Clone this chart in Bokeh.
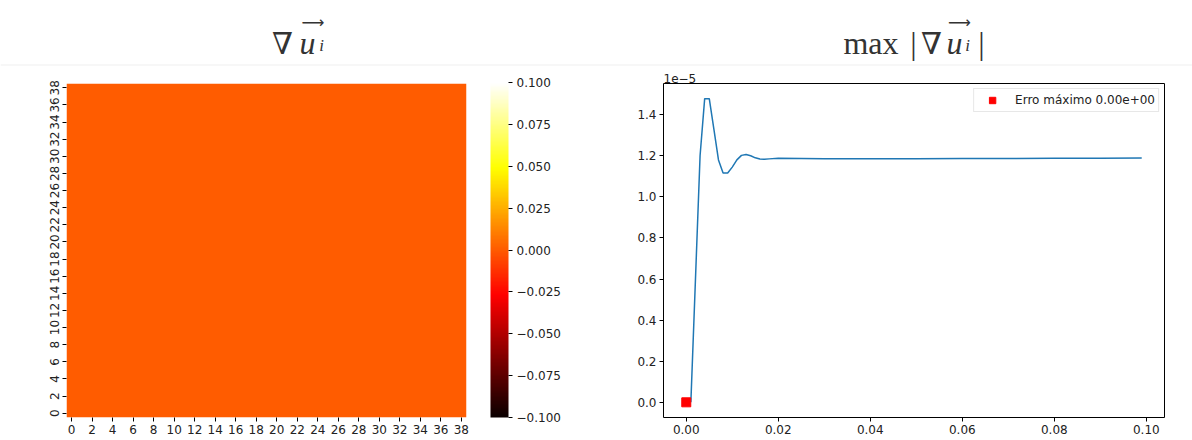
import numpy as np
from bokeh.plotting import figure
from bokeh.layouts import column, row
from bokeh.models import (Range1d, FixedTicker, LinearColorMapper, ColorBar,
                          CustomJSTickFormatter, PrintfTickFormatter, Span, Title)
from bokeh.embed import file_html
from bokeh.resources import INLINE
from bokeh.core.properties import value

# ---------------- data ----------------
n_cells = 39
grad_field = [[0.0] * n_cells for _ in range(n_cells)]          # all zeros
cell_ticks = list(range(0, n_cells, 2))
cbar_low, cbar_high = -0.1, 0.1
cbar_ticks = [-0.1, -0.075, -0.05, -0.025, 0.0, 0.025, 0.05, 0.075, 0.1]

t_vals = [0.001, 0.003, 0.004, 0.005, 0.006, 0.007, 0.008, 0.009, 0.010,
          0.011, 0.012, 0.013, 0.014, 0.015, 0.016, 0.017, 0.018, 0.020,
          0.025, 0.030, 0.040, 0.050, 0.060, 0.070, 0.080, 0.090, 0.099]
max_grad_1e5 = [0.0, 1.20, 1.478, 1.478, 1.33, 1.18, 1.116, 1.116, 1.145,
                1.18, 1.202, 1.206, 1.200, 1.190, 1.184, 1.183, 1.185, 1.188,
                1.187, 1.186, 1.186, 1.186, 1.187, 1.187, 1.188, 1.188, 1.189]
err_t = [0.0]
err_val = [0.0]
err_label = "Erro máximo 0.00e+00"
x_ticks = [0.0, 0.02, 0.04, 0.06, 0.08, 0.10]
y_ticks = [0.0, 0.2, 0.4, 0.6, 0.8, 1.0, 1.2, 1.4]
offset_text = "1e\u22125"

FONT = "DejaVu Sans"
TXT = "#222222"


def hot_palette(n=256):
    cols = []
    for k in range(n):
        t = k / (n - 1)
        r = np.interp(t, [0, 0.365079, 1], [0.0416, 1, 1])
        g = np.interp(t, [0, 0.365079, 0.746032, 1], [0, 0, 1, 1])
        b = np.interp(t, [0, 0.746032, 1], [0, 0, 1])
        cols.append("#%02x%02x%02x" % (int(round(r * 255)), int(round(g * 255)), int(round(b * 255))))
    return cols


def style_axis(ax):
    ax.axis_line_color = None
    ax.major_tick_line_color = "black"
    ax.major_tick_out = 4
    ax.major_tick_in = 0
    ax.minor_tick_line_color = None
    ax.major_label_text_font = FONT
    ax.major_label_text_font_size = "12px"
    ax.major_label_text_color = TXT


# ---------------- title strip ----------------
top = figure(width=1192, height=66, x_range=Range1d(0, 1192), y_range=Range1d(66, 0),
             x_axis_location=None, y_axis_location=None, toolbar_location=None,
             output_backend="svg", min_border=0)
top.outline_line_color = None
top.grid.visible = False
top.add_layout(Span(location=64.5, dimension="width", line_color="#efefef", line_width=1))
TC = "#333333"
top.text(x=[870.5], y=[42], text=["max"], text_font=value("Liberation Serif"),
         text_font_size="32px", text_align="center", text_baseline="alphabetic", text_color=TC)
top.text(x=[913, 981], y=[42, 42], text=["|", "|"], text_font=value("Liberation Serif"),
         text_font_size="32px", text_align="center", text_baseline="alphabetic", text_color=TC)
top.text(x=[282, 931], y=[43, 43], text=["\u2207", "\u2207"], text_font=value("DejaVu Serif"),
         text_font_size="30px", text_align="center", text_baseline="alphabetic", text_color=TC)
top.text(x=[307, 954], y=[42, 42], text=["u", "u"], text_font=value("Liberation Serif"),
         text_font_style="italic", text_font_size="32px", text_align="center",
         text_baseline="alphabetic", text_color=TC)
top.text(x=[312.5, 959], y=[22, 22], text=["\u27f6", "\u27f6"], text_font=value("DejaVu Sans"),
         text_font_size="16px", text_align="center", text_baseline="middle", text_color=TC)
top.text(x=[321, 967], y=[45, 45], text=["i", "i"], text_font=value("Liberation Serif"),
         text_font_style="italic", text_font_size="17px", text_align="center",
         text_baseline="alphabetic", text_color=TC)

# ---------------- heatmap ----------------
palette = hot_palette()
mapper = LinearColorMapper(palette=palette, low=cbar_low, high=cbar_high)

hm = figure(width=596, height=374, x_range=Range1d(0, n_cells), y_range=Range1d(0, n_cells),
            toolbar_location=None, output_backend="svg",
            min_border_left=66, min_border_right=130, min_border_top=16, min_border_bottom=23)
hm.image(image=[np.array(grad_field)], x=0, y=0, dw=n_cells, dh=n_cells, color_mapper=mapper)
hm.grid.visible = False
hm.outline_line_color = None
for ax in (hm.xaxis[0], hm.yaxis[0]):
    style_axis(ax)
    ax.ticker = FixedTicker(ticks=[c + 0.5 for c in cell_ticks])
    ax.major_label_overrides = {c + 0.5: str(c) for c in cell_ticks}
    ax.major_label_standoff = 3
hm.yaxis[0].major_label_orientation = "vertical"

cb = ColorBar(color_mapper=mapper, width=18, height=335, padding=0, margin=0,
              location=(424, 0),
              ticker=FixedTicker(ticks=cbar_ticks),
              formatter=CustomJSTickFormatter(code="return (tick < 0 ? '\u2212' : '') + Math.abs(tick).toFixed(3);"),
              major_tick_in=0, major_tick_out=4, major_tick_line_color="black",
              minor_tick_line_color=None, bar_line_color=None, label_standoff=4,
              major_label_text_font=FONT, major_label_text_font_size="12px",
              major_label_text_color=TXT, background_fill_alpha=0)
hm.add_layout(cb)

# ---------------- line chart ----------------
ln = figure(width=596, height=374, x_range=Range1d(-0.00495, 0.10395),
            y_range=Range1d(-0.0739, 1.5519), toolbar_location=None, output_backend="svg",
            min_border_left=67, min_border_right=28, min_border_top=17, min_border_bottom=22)
ln.title = Title(text=offset_text, align="left", text_font=FONT, text_font_size="12px",
                 text_font_style="normal", text_color=TXT, standoff=1, offset=0)
ln.line(t_vals, max_grad_1e5, line_color="#1f77b4", line_width=1.5)
ln.scatter(err_t, err_val, marker="square", size=9, fill_color="red", line_color="red",
           legend_label=err_label)
ln.grid.visible = False
ln.outline_line_color = "black"
ln.outline_line_width = 1
style_axis(ln.xaxis[0])
style_axis(ln.yaxis[0])
ln.xaxis[0].ticker = FixedTicker(ticks=x_ticks)
ln.xaxis[0].formatter = PrintfTickFormatter(format="%.2f")
ln.yaxis[0].ticker = FixedTicker(ticks=y_ticks)
ln.yaxis[0].formatter = CustomJSTickFormatter(code="return tick.toFixed(1);")
ln.xaxis[0].major_label_standoff = 3
ln.yaxis[0].major_label_standoff = 3

lg = ln.legend[0]
lg.location = "top_right"
lg.margin = 5
lg.padding = 3
lg.spacing = 0
lg.glyph_width = 30
lg.glyph_height = 16
lg.label_height = 16
lg.label_standoff = 8
lg.label_text_font = FONT
lg.label_text_font_size = "12px"
lg.label_text_color = TXT
lg.border_line_color = "#d0d0d0"
lg.border_line_width = 1
lg.background_fill_alpha = 1

layout = column(top, row(hm, ln))
with open("out.html", "w", encoding="utf-8") as f:
    f.write(file_html(layout, INLINE))
